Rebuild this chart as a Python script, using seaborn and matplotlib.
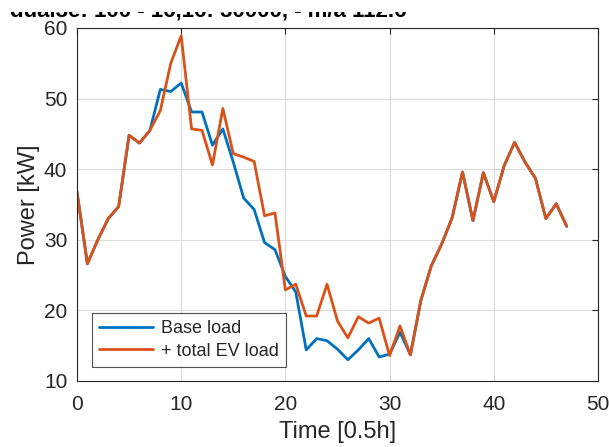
import matplotlib
matplotlib.use("Agg")
import matplotlib.pyplot as plt
from matplotlib.patches import Rectangle
import seaborn as sns
import pandas as pd

# Half-hour time steps
time_steps = list(range(48))

# Household base load [kW]
base_load = [36.8, 26.6, 30.0, 33.0, 34.7, 44.8, 43.7, 45.5, 51.3, 51.0,
             52.2, 48.1, 48.1, 43.4, 45.7, 41.0, 35.9, 34.3, 29.6, 28.6,
             24.8, 22.6, 14.4, 16.0, 15.7, 14.5, 13.0, 14.4, 16.0, 13.4,
             13.8, 16.9, 13.7, 21.4, 26.3, 29.4, 33.1, 39.6, 32.7, 39.5,
             35.4, 40.5, 43.8, 41.0, 38.7, 33.0, 35.1, 31.9]

# Base load plus the aggregated EV charging load [kW]
ev_total_load = [36.8, 26.6, 30.0, 33.0, 34.7, 44.8, 43.7, 45.5, 48.3, 55.0,
                 58.9, 45.7, 45.5, 40.6, 48.6, 42.2, 41.7, 41.1, 33.4, 33.8,
                 22.9, 23.7, 19.2, 19.2, 23.7, 18.5, 16.1, 19.1, 18.2, 18.9,
                 13.6, 17.8, 13.7, 21.4, 26.3, 29.4, 33.1, 39.6, 32.7, 39.5,
                 35.4, 40.5, 43.8, 41.0, 38.7, 33.0, 35.1, 31.9]

series_names = ["Base load", "+ total EV load"]
series_colors = ["#0072BD", "#D95319"]

df = pd.concat([
    pd.DataFrame({"t": time_steps, "p": base_load, "series": series_names[0]}),
    pd.DataFrame({"t": time_steps, "p": ev_total_load, "series": series_names[1]}),
])

sns.set_style("white")
plt.rcParams["font.family"] = ["Liberation Sans", "DejaVu Sans"]

fig = plt.figure(figsize=(6.09, 4.47), dpi=100)
ax = fig.add_axes([0.1264, 0.1477, 0.8555, 0.7897])

sns.lineplot(data=df, x="t", y="p", hue="series", hue_order=series_names,
             palette=series_colors, linewidth=2.0, ax=ax, legend=True)

ax.set_xlim(0, 50)
ax.set_ylim(10, 60)
ax.set_xticks([0, 10, 20, 30, 40, 50])
ax.set_yticks([10, 20, 30, 40, 50, 60])
ax.grid(True, color="#DCDCDC", linewidth=0.8)
ax.set_axisbelow(True)
for s in ax.spines.values():
    s.set_color("#262626")
    s.set_linewidth(0.8)
ax.tick_params(axis="both", direction="in", length=4, width=0.8,
               colors="#262626", labelsize=15, top=True, right=True,
               labelcolor="#262626")
ax.tick_params(axis="x", pad=10)
ax.tick_params(axis="y", pad=7)
ax.set_xlabel("Time [0.5h]", fontsize=17, color="#262626", labelpad=5)
ax.set_ylabel("Power [kW]", fontsize=17, color="#262626", labelpad=3)

handles, labels = ax.get_legend_handles_labels()
leg = ax.legend(handles, labels, loc="lower left",
                bbox_to_anchor=(0.029, 0.04), fontsize=13, frameon=True,
                fancybox=False, handlelength=3.0, borderpad=0.4,
                labelspacing=0.3, handletextpad=0.4, borderaxespad=0)
leg.get_frame().set_edgecolor("#262626")
leg.get_frame().set_linewidth(0.8)

# Bold title, cropped by the top margin band
fig.text(0.017, 1 - 17 / 447, "dual3e: 100 - 16,16: 30000, - m/a 112.6",
         fontsize=16, fontweight="bold", ha="left", va="baseline", color="black")
fig.patches.append(Rectangle((0, 1 - 12 / 447), 1, 12 / 447,
                             transform=fig.transFigure,
                             facecolor="white", edgecolor="none", zorder=10))

fig.savefig("out.png", dpi=100)
